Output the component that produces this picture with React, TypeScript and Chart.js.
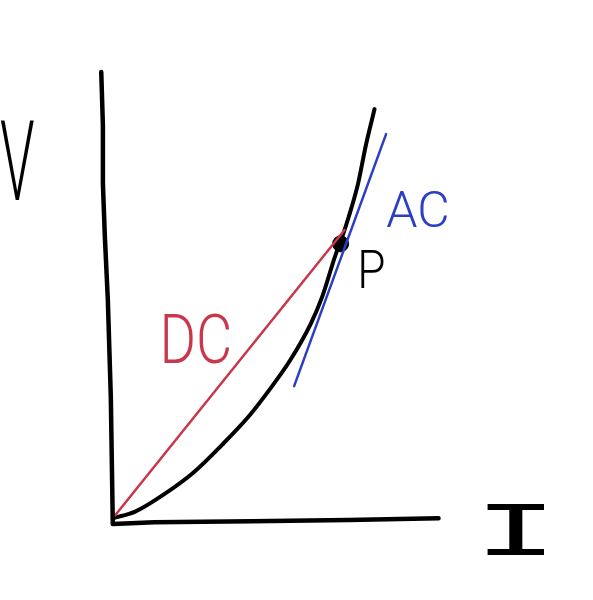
import React, { useEffect, useRef } from "react";
import { Chart, registerables } from "chart.js";
Chart.register(...registerables);

// Sketch coordinates (I along x, V along y), origin at the corner of the axes
const vAxisI = [-0.29, -0.24, -0.24, -0.18, -0.09, 0, 0.06];
const vAxisV = [10.0, 8.8, 7.5, 6.3, 4.89, 2.72, -0.11];
const hAxisI = [0.06, 1.32, 4.26, 7.21, 9.94];
const hAxisV = [-0.13, -0.09, -0.07, -0.04, 0];
const curveI = [0.06, 0.74, 1.62, 2.5, 3.38, 4.18, 4.65, 5.44, 6.06, 6.41, 6.82, 6.97, 7.21, 7.5, 7.74, 8.0];
const curveV = [0, 0.15, 0.54, 1.02, 1.65, 2.28, 2.72, 3.54, 4.35, 4.96, 5.91, 6.2, 6.74, 7.5, 8.37, 9.17];
const dcI = [0.06, 7.09];
const dcV = [0, 6.46];
const acI = [5.56, 8.35];
const acV = [2.96, 8.61];
const pointPI = [6.97];
const pointPV = [6.15];

const labelTexts = ["V", "I", "DC", "AC", "P"];
const labelI = [-2.84, 12.29, 2.58, 9.32, 7.9];
const labelV = [7.75, -0.37, 3.87, 6.8, 5.47];
const labelColors = ["#000000", "#000000", "#c8374a", "#2b3fc4", "#000000"];
const labelFonts = [
  '300 112px Roboto, sans-serif',
  'normal 78px "Liberation Mono", monospace',
  '300 68px Roboto, sans-serif',
  '300 50px Roboto, sans-serif',
  '300 54px Roboto, sans-serif',
];
const labelScaleX = [0.5, 1.8, 0.82, 1.0, 0.85];

const toPts = (xs: number[], ys: number[]) => xs.map((x, i) => ({ x, y: ys[i] }));

export default function App() {
  const ref = useRef<HTMLCanvasElement | null>(null);
  useEffect(() => {
    if (!ref.current) return;
    const textPlugin = {
      id: "sketchText",
      afterDatasetsDraw(chart: any) {
        const ctx = chart.ctx;
        const xs = chart.scales.x;
        const ys = chart.scales.y;
        labelTexts.forEach((t, i) => {
          ctx.save();
          ctx.translate(xs.getPixelForValue(labelI[i]), ys.getPixelForValue(labelV[i]));
          ctx.scale(labelScaleX[i], 1);
          ctx.fillStyle = labelColors[i];
          ctx.font = labelFonts[i];
          ctx.textAlign = "center";
          ctx.textBaseline = "middle";
          ctx.fillText(t, 0, 0);
          ctx.restore();
        });
      },
    };
    const line = (data: any, color: string, width: number, smooth = false) => ({
      data,
      showLine: true,
      borderColor: color,
      borderWidth: width,
      pointRadius: 0,
      tension: smooth ? 0.4 : 0,
      cubicInterpolationMode: smooth ? "monotone" : "default",
      borderCapStyle: "round",
      borderJoinStyle: "round",
    });
    const chart = new Chart(ref.current, {
      type: "scatter",
      data: {
        datasets: [
          line(toPts(vAxisI, vAxisV), "#000000", 4.5, false) as any,
          line(toPts(hAxisI, hAxisV), "#000000", 4.5, false) as any,
          line(toPts(dcI, dcV), "#c8374a", 2.5) as any,
          line(toPts(curveI, curveV), "#000000", 4, true) as any,
          line(toPts(acI, acV), "#2b3fc4", 2.5) as any,
          {
            data: toPts(pointPI, pointPV),
            pointRadius: 8,
            pointBackgroundColor: "#000000",
            pointBorderColor: "#000000",
            showLine: false,
          } as any,
        ],
      },
      options: {
        animation: false,
        responsive: true,
        maintainAspectRatio: false,
        layout: { padding: 0 },
        plugins: { legend: { display: false }, tooltip: { enabled: false } },
        scales: {
          x: { type: "linear", display: false, min: -105 / 34, max: (593 - 105) / 34 },
          y: { type: "linear", display: false, min: -(600 - 525) / 46, max: 525 / 46 },
        },
      },
      plugins: [textPlugin],
    });
    return () => chart.destroy();
  }, []);
  return (
    <div style={{ position: "fixed", left: 0, top: 0, width: 593, height: 600, background: "#ffffff" }}>
      <canvas ref={ref} />
    </div>
  );
}
